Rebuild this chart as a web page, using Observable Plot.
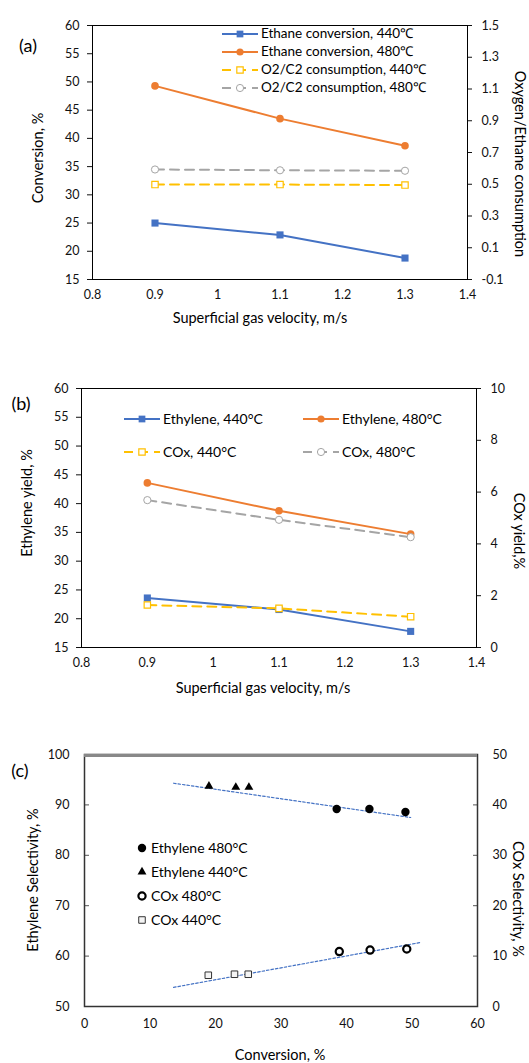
<!DOCTYPE html>
<html>
<head>
<meta charset="utf-8">
<script src="https://cdn.jsdelivr.net/npm/d3@7"></script>
<script src="https://cdn.jsdelivr.net/npm/@observablehq/plot@0.6"></script>
<style>
html, body { margin: 0; padding: 0; background: #fff; }
#root { position: relative; width: 529px; height: 1063px; overflow: hidden; font-family: Lato, "Open Sans", sans-serif; color: #000; }
.panel { position: absolute; left: 0; }
.t { position: absolute; white-space: nowrap; line-height: 1; }
</style>
</head>
<body>
<div id="root"></div>
<script>
// ---------- Panel (a) data ----------
const velocity = [0.9, 1.1, 1.3];
const ethaneConv440 = [25.0, 22.9, 18.8];
const ethaneConv480 = [49.3, 43.5, 38.7];
const o2c2Cons440 = [0.498, 0.498, 0.495];
const o2c2Cons480 = [0.593, 0.588, 0.585];
const xTicksV = [0.8, 0.9, 1.0, 1.1, 1.2, 1.3, 1.4];
const yTicksA = [15, 20, 25, 30, 35, 40, 45, 50, 55, 60];
const y2TicksA = [-0.1, 0.1, 0.3, 0.5, 0.7, 0.9, 1.1, 1.3, 1.5];

// ---------- Panel (b) data ----------
const ethyleneYield440 = [23.6, 21.6, 17.8];
const ethyleneYield480 = [43.6, 38.75, 34.7];
const coxYield440 = [1.64, 1.51, 1.19];
const coxYield480 = [5.69, 4.93, 4.26];
const yTicksB = [15, 20, 25, 30, 35, 40, 45, 50, 55, 60];
const y2TicksB = [0, 2, 4, 6, 8, 10];

// ---------- Panel (c) data ----------
const convEth480 = [38.5, 43.5, 49.0];
const selEth480 = [89.2, 89.2, 88.6];
const convEth440 = [19.0, 23.1, 25.1];
const selEth440 = [93.7, 93.5, 93.5];
const convCOx480 = [38.9, 43.6, 49.2];
const selCOx480 = [10.9, 11.2, 11.4];
const convCOx440 = [18.9, 22.9, 25.0];
const selCOx440 = [6.2, 6.4, 6.4];
const trendEthX = [13.6, 49.8];
const trendEthY = [94.3, 87.5];
const trendCOxX = [13.6, 51.3];
const trendCOxY = [3.8, 12.7];
const xTicksC = [0, 10, 20, 30, 40, 50, 60];
const yTicksC = [50, 60, 70, 80, 90, 100];
const y2TicksC = [0, 10, 20, 30, 40, 50];

// ---------- styles ----------
const FONT = "Lato, 'Open Sans', sans-serif";
const COL = {blue: "#4472C4", orange: "#ED7D31", yellow: "#FFC000", gray: "#A5A5A5"};
const DASH = "9,6";
const rows = (xs, ys, f = d => d) => xs.map((x, i) => ({x, y: f(ys[i])}));
const fmt1 = v => (Math.round(v * 10) / 10).toFixed(1);
const baseStyle = {fontFamily: FONT, fontSize: "12.5px", color: "#111", background: "transparent", overflow: "visible"};
const TITLE = 14.5;

const root = document.getElementById("root");
function addPanel(node, top) {
  node.classList.add("panel");
  node.style.top = top + "px";
  root.appendChild(node);
}
function label(text, cx, cy, {rot = 0, size = TITLE} = {}) {
  const el = document.createElement("div");
  el.className = "t";
  el.textContent = text;
  el.style.left = cx + "px";
  el.style.top = cy + "px";
  el.style.fontSize = size + "px";
  el.style.transform = `translate(-50%,-50%) rotate(${rot}deg)`;
  root.appendChild(el);
}
const SYM = {square: d3.symbolSquare, circle: d3.symbolCircle, triangle: d3.symbolTriangle};
function legendItem(x, y, text, {color, dash, symbol, r, fill, stroke, sw = 1, line = true, w = 36, textGap = 3, size = 13.5}) {
  const svg = d3.create("svg").attr("width", w).attr("height", 16)
    .style("position", "absolute").style("left", x + "px").style("top", (y - 8) + "px").style("overflow", "visible");
  if (line) svg.append("line").attr("x1", 0).attr("x2", w).attr("y1", 8).attr("y2", 8)
    .attr("stroke", color).attr("stroke-width", 2).attr("stroke-dasharray", dash || null);
  svg.append("path").attr("transform", `translate(${w / 2},8)`)
    .attr("d", d3.symbol(SYM[symbol], Math.PI * r * r)())
    .attr("fill", fill).attr("stroke", stroke || "none").attr("stroke-width", sw);
  root.appendChild(svg.node());
  const el = document.createElement("div");
  el.className = "t";
  el.textContent = text;
  el.style.left = (x + w + textGap) + "px";
  el.style.top = y + "px";
  el.style.fontSize = size + "px";
  el.style.transform = "translateY(-50%)";
  root.appendChild(el);
}

// ---------- Panel (a) ----------
const toLA = v => 15 + (v + 0.1) * 45 / 1.6;
const fromLA = d => (d - 15) * 1.6 / 45 - 0.1;
const plotA = Plot.plot({
  width: 529, height: 340,
  marginLeft: 92, marginRight: 62, marginTop: 25, marginBottom: 61,
  style: baseStyle,
  x: {domain: [0.8, 1.4]},
  y: {domain: [15, 60]},
  marks: [
    Plot.axisY({anchor: "left", ticks: yTicksA, tickSize: 5, tickPadding: 8, label: null}),
    Plot.axisY({anchor: "right", ticks: y2TicksA.map(toLA), tickFormat: d => fmt1(fromLA(d)), tickSize: 4, tickPadding: 10, label: null}),
    Plot.axisX({ticks: xTicksV, tickSize: 0, tickPadding: 11, tickFormat: d => String(+d.toFixed(1)), label: null}),
    Plot.frame({stroke: "#000"}),
    Plot.line(rows(velocity, o2c2Cons480, toLA), {x: "x", y: "y", stroke: COL.gray, strokeWidth: 2, strokeDasharray: DASH}),
    Plot.line(rows(velocity, o2c2Cons440, toLA), {x: "x", y: "y", stroke: COL.yellow, strokeWidth: 2, strokeDasharray: DASH}),
    Plot.line(rows(velocity, ethaneConv440), {x: "x", y: "y", stroke: COL.blue, strokeWidth: 2}),
    Plot.line(rows(velocity, ethaneConv480), {x: "x", y: "y", stroke: COL.orange, strokeWidth: 2}),
    Plot.dot(rows(velocity, o2c2Cons480, toLA), {x: "x", y: "y", r: 3.6, fill: "#fff", stroke: COL.gray, strokeWidth: 1}),
    Plot.dot(rows(velocity, o2c2Cons440, toLA), {x: "x", y: "y", symbol: "square", r: 3.6, fill: "#fff", stroke: COL.yellow, strokeWidth: 1.2}),
    Plot.dot(rows(velocity, ethaneConv440), {x: "x", y: "y", symbol: "square", r: 4, fill: COL.blue}),
    Plot.dot(rows(velocity, ethaneConv480), {x: "x", y: "y", r: 3.8, fill: COL.orange})
  ]
});
addPanel(plotA, 0);
label("(a)", 28, 45, {size: 18});
label("Conversion, %", 38, 158, {rot: -90});
label("Oxygen/Ethane consumption", 520, 164, {rot: 90});
label("Superficial gas velocity, m/s", 260, 318);
legendItem(222, 34, "Ethane conversion, 440℃", {color: COL.blue, symbol: "square", r: 3.8, fill: COL.blue});
legendItem(222, 52, "Ethane conversion, 480℃", {color: COL.orange, symbol: "circle", r: 3.6, fill: COL.orange});
legendItem(222, 70, "O2/C2 consumption, 440℃", {color: COL.yellow, dash: DASH, symbol: "square", r: 3.6, fill: "#fff", stroke: COL.yellow, sw: 1.2});
legendItem(222, 88, "O2/C2 consumption, 480℃", {color: COL.gray, dash: DASH, symbol: "circle", r: 3.6, fill: "#fff", stroke: COL.gray});

// ---------- Panel (b) ----------
const toLB = v => 15 + v * 4.5;
const fromLB = d => (d - 15) / 4.5;
const plotB = Plot.plot({
  width: 529, height: 360,
  marginLeft: 81, marginRight: 53, marginTop: 48, marginBottom: 53,
  style: baseStyle,
  x: {domain: [0.8, 1.4]},
  y: {domain: [15, 60]},
  marks: [
    Plot.axisY({anchor: "left", ticks: yTicksB, tickSize: 5, tickPadding: 8, label: null}),
    Plot.axisY({anchor: "right", ticks: y2TicksB.map(toLB), tickFormat: d => String(Math.round(fromLB(d))), tickSize: 4, tickPadding: 10, label: null}),
    Plot.axisX({ticks: xTicksV, tickSize: 0, tickPadding: 11, tickFormat: d => String(+d.toFixed(1)), label: null}),
    Plot.frame({stroke: "#000"}),
    Plot.line(rows(velocity, coxYield480, toLB), {x: "x", y: "y", stroke: COL.gray, strokeWidth: 2, strokeDasharray: DASH}),
    Plot.line(rows(velocity, ethyleneYield440), {x: "x", y: "y", stroke: COL.blue, strokeWidth: 2}),
    Plot.line(rows(velocity, coxYield440, toLB), {x: "x", y: "y", stroke: COL.yellow, strokeWidth: 2, strokeDasharray: DASH}),
    Plot.line(rows(velocity, ethyleneYield480), {x: "x", y: "y", stroke: COL.orange, strokeWidth: 2}),
    Plot.dot(rows(velocity, ethyleneYield440), {x: "x", y: "y", symbol: "square", r: 4, fill: COL.blue}),
    Plot.dot(rows(velocity, ethyleneYield480), {x: "x", y: "y", r: 3.8, fill: COL.orange}),
    Plot.dot(rows(velocity, coxYield480, toLB), {x: "x", y: "y", r: 3.6, fill: "#fff", stroke: COL.gray, strokeWidth: 1}),
    Plot.dot(rows(velocity, coxYield440, toLB), {x: "x", y: "y", symbol: "square", r: 3.6, fill: "#fff", stroke: COL.yellow, strokeWidth: 1.2})
  ]
});
addPanel(plotB, 340);
label("(b)", 21, 403, {size: 18});
label("Ethylene yield, %", 27, 503, {rot: -90});
label("COx yield,%", 519, 531, {rot: 90});
label("Superficial gas velocity, m/s", 263, 688);
legendItem(124, 419, "Ethylene, 440°C", {color: COL.blue, symbol: "square", r: 3.8, fill: COL.blue, size: 14});
legendItem(303, 419, "Ethylene, 480°C", {color: COL.orange, symbol: "circle", r: 3.6, fill: COL.orange, size: 14});
legendItem(124, 452, "COx, 440°C", {color: COL.yellow, dash: DASH, symbol: "square", r: 3.6, fill: "#fff", stroke: COL.yellow, sw: 1.2, size: 14});
legendItem(303, 452, "COx, 480°C", {color: COL.gray, dash: DASH, symbol: "circle", r: 3.6, fill: "#fff", stroke: COL.gray, size: 14});

// ---------- Panel (c) ----------
const toLC = v => v + 50;
const plotC = Plot.plot({
  width: 529, height: 363,
  marginLeft: 84, marginRight: 52, marginTop: 54, marginBottom: 57,
  style: baseStyle,
  x: {domain: [0, 60]},
  y: {domain: [50, 100]},
  marks: [
    Plot.axisY({anchor: "left", ticks: yTicksC, tickSize: -5, tickPadding: 20, label: null, stroke: "#555"}),
    Plot.axisY({anchor: "right", ticks: y2TicksC.map(toLC), tickFormat: d => String(Math.round(d - 50)), tickSize: -5, tickPadding: 20, label: null, stroke: "#555"}),
    Plot.axisX({ticks: xTicksC, tickSize: 0, tickPadding: 13, label: null}),
    Plot.frame({stroke: "#333", strokeWidth: 1.5}),
    Plot.ruleY([100], {stroke: "#888", strokeWidth: 3, dy: 1}),
    Plot.line(rows(trendEthX, trendEthY), {x: "x", y: "y", stroke: COL.blue, strokeWidth: 1.2, strokeDasharray: "2.5,2"}),
    Plot.line(rows(trendCOxX, trendCOxY, toLC), {x: "x", y: "y", stroke: COL.blue, strokeWidth: 1.2, strokeDasharray: "2.5,2"}),
    Plot.dot(rows(convEth480, selEth480), {x: "x", y: "y", r: 4.2, fill: "#000"}),
    Plot.dot(rows(convEth440, selEth440), {x: "x", y: "y", symbol: "triangle", r: 3.3, fill: "#000"}),
    Plot.dot(rows(convCOx480, selCOx480, toLC), {x: "x", y: "y", r: 3.6, fill: "#fff", stroke: "#000", strokeWidth: 2.2}),
    Plot.dot(rows(convCOx440, selCOx440, toLC), {x: "x", y: "y", symbol: "square", r: 3.7, fill: "#f4f4f4", stroke: "#333", strokeWidth: 1})
  ]
});
addPanel(plotC, 700);
label("(c)", 20, 770, {size: 18});
label("Ethylene Selectivity, %", 33, 880, {rot: -90});
label("COx Selectivity, %", 518, 899, {rot: 90});
label("Conversion, %", 280, 1055);
legendItem(134, 848, "Ethylene 480°C", {symbol: "circle", r: 4.2, fill: "#000", line: false, w: 16, textGap: 1, size: 14});
legendItem(134, 872, "Ethylene 440°C", {symbol: "triangle", r: 3.3, fill: "#000", line: false, w: 16, textGap: 1, size: 14});
legendItem(134, 896, "COx 480°C", {symbol: "circle", r: 3.6, fill: "#fff", stroke: "#000", sw: 2.2, line: false, w: 16, textGap: 1, size: 14});
legendItem(134, 920, "COx 440°C", {symbol: "square", r: 3.7, fill: "#f4f4f4", stroke: "#333", line: false, w: 16, textGap: 1, size: 14});
</script>
</body>
</html>
